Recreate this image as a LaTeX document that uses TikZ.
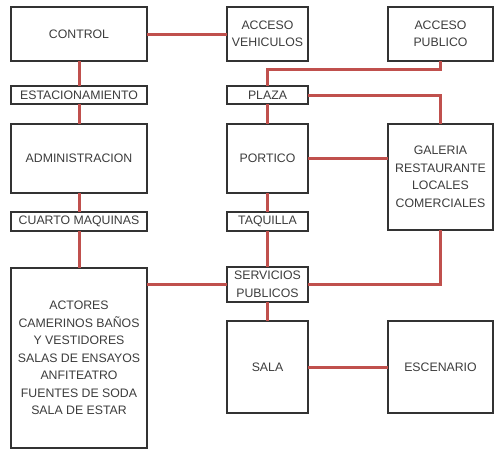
\documentclass[tikz,border=0pt]{standalone}
\usepackage{fontspec}
\setmainfont{Liberation Sans}
\usetikzlibrary{positioning}
\definecolor{linkred}{HTML}{C0504D}
\definecolor{boxline}{HTML}{333333}
\definecolor{txtgray}{HTML}{3C3C3C}

\begin{document}
\begin{tikzpicture}[
  x=1pt, y=1pt,
  room/.style={draw=boxline, line width=1.5pt, fill=white, align=center, inner sep=0pt,
    outer sep=0pt, text=txtgray, font=\fontsize{12.3}{17.5}\selectfont},
  big/.style={room, minimum width=136pt},
  mid/.style={room, minimum width=81pt},
  wide/.style={room, minimum width=105pt},
  link/.style={draw=linkred, line width=3pt},
]
\useasboundingbox (0,0) rectangle (494,-450);
\node[big, minimum height=54pt] (control) at (79,-34) {CONTROL};
\node[mid, minimum height=54pt, right=80pt of control] (vehiculos) {ACCESO\\VEHICULOS};
\node[wide, minimum height=54pt, right=80pt of vehiculos] (publico) {ACCESO\\PUBLICO};
\node[big, minimum height=18pt, below=25pt of control] (estac) {ESTACIONAMIENTO};
\node[mid, minimum height=18pt, below=25pt of vehiculos] (plaza) {PLAZA};
\node[big, minimum height=69pt, below=20pt of estac] (admin) {ADMINISTRACION};
\node[mid, minimum height=69pt, below=20pt of plaza] (portico) {PORTICO};
\node[wide, minimum height=106pt, right=80pt of portico.north east, anchor=north west] (galeria) {GALERIA\\RESTAURANTE\\LOCALES\\COMERCIALES};
\node[big, minimum height=19pt, below=19pt of admin] (cuarto) {CUARTO MAQUINAS};
\node[mid, minimum height=19pt, below=19pt of portico] (taquilla) {TAQUILLA};
\node[big, minimum height=180pt, below=37pt of cuarto] (actores) {ACTORES\\CAMERINOS BAÑOS\\Y VESTIDORES\\SALAS DE ENSAYOS\\ANFITEATRO\\FUENTES DE SODA\\SALA DE ESTAR};
\node[mid, minimum height=35pt, below=36pt of taquilla] (servicios) {SERVICIOS\\PUBLICOS};
\node[mid, minimum height=92pt, below=19pt of servicios] (sala) {SALA};
\node[wide, minimum height=92pt, right=80pt of sala] (escenario) {ESCENARIO};
% red links
\draw[link] (control) -- (vehiculos);
\draw[link] (control) -- (estac);
\draw[link] (estac) -- (admin);
\draw[link] (admin) -- (cuarto);
\draw[link] (cuarto) -- (actores);
\draw[link] (publico.south) -- ++(0,-8) -| (plaza.north);
\draw[link] (plaza.east) -| (galeria.north);
\draw[link] (plaza) -- (portico);
\draw[link] (portico) -- (galeria.west |- portico.east);
\draw[link] (portico) -- (taquilla);
\draw[link] (taquilla) -- (servicios);
\draw[link] (actores.east |- servicios.west) -- (servicios.west);
\draw[link] (servicios.east) -| (galeria.south);
\draw[link] (servicios) -- (sala);
\draw[link] (sala) -- (escenario);
\end{tikzpicture}
\end{document}
